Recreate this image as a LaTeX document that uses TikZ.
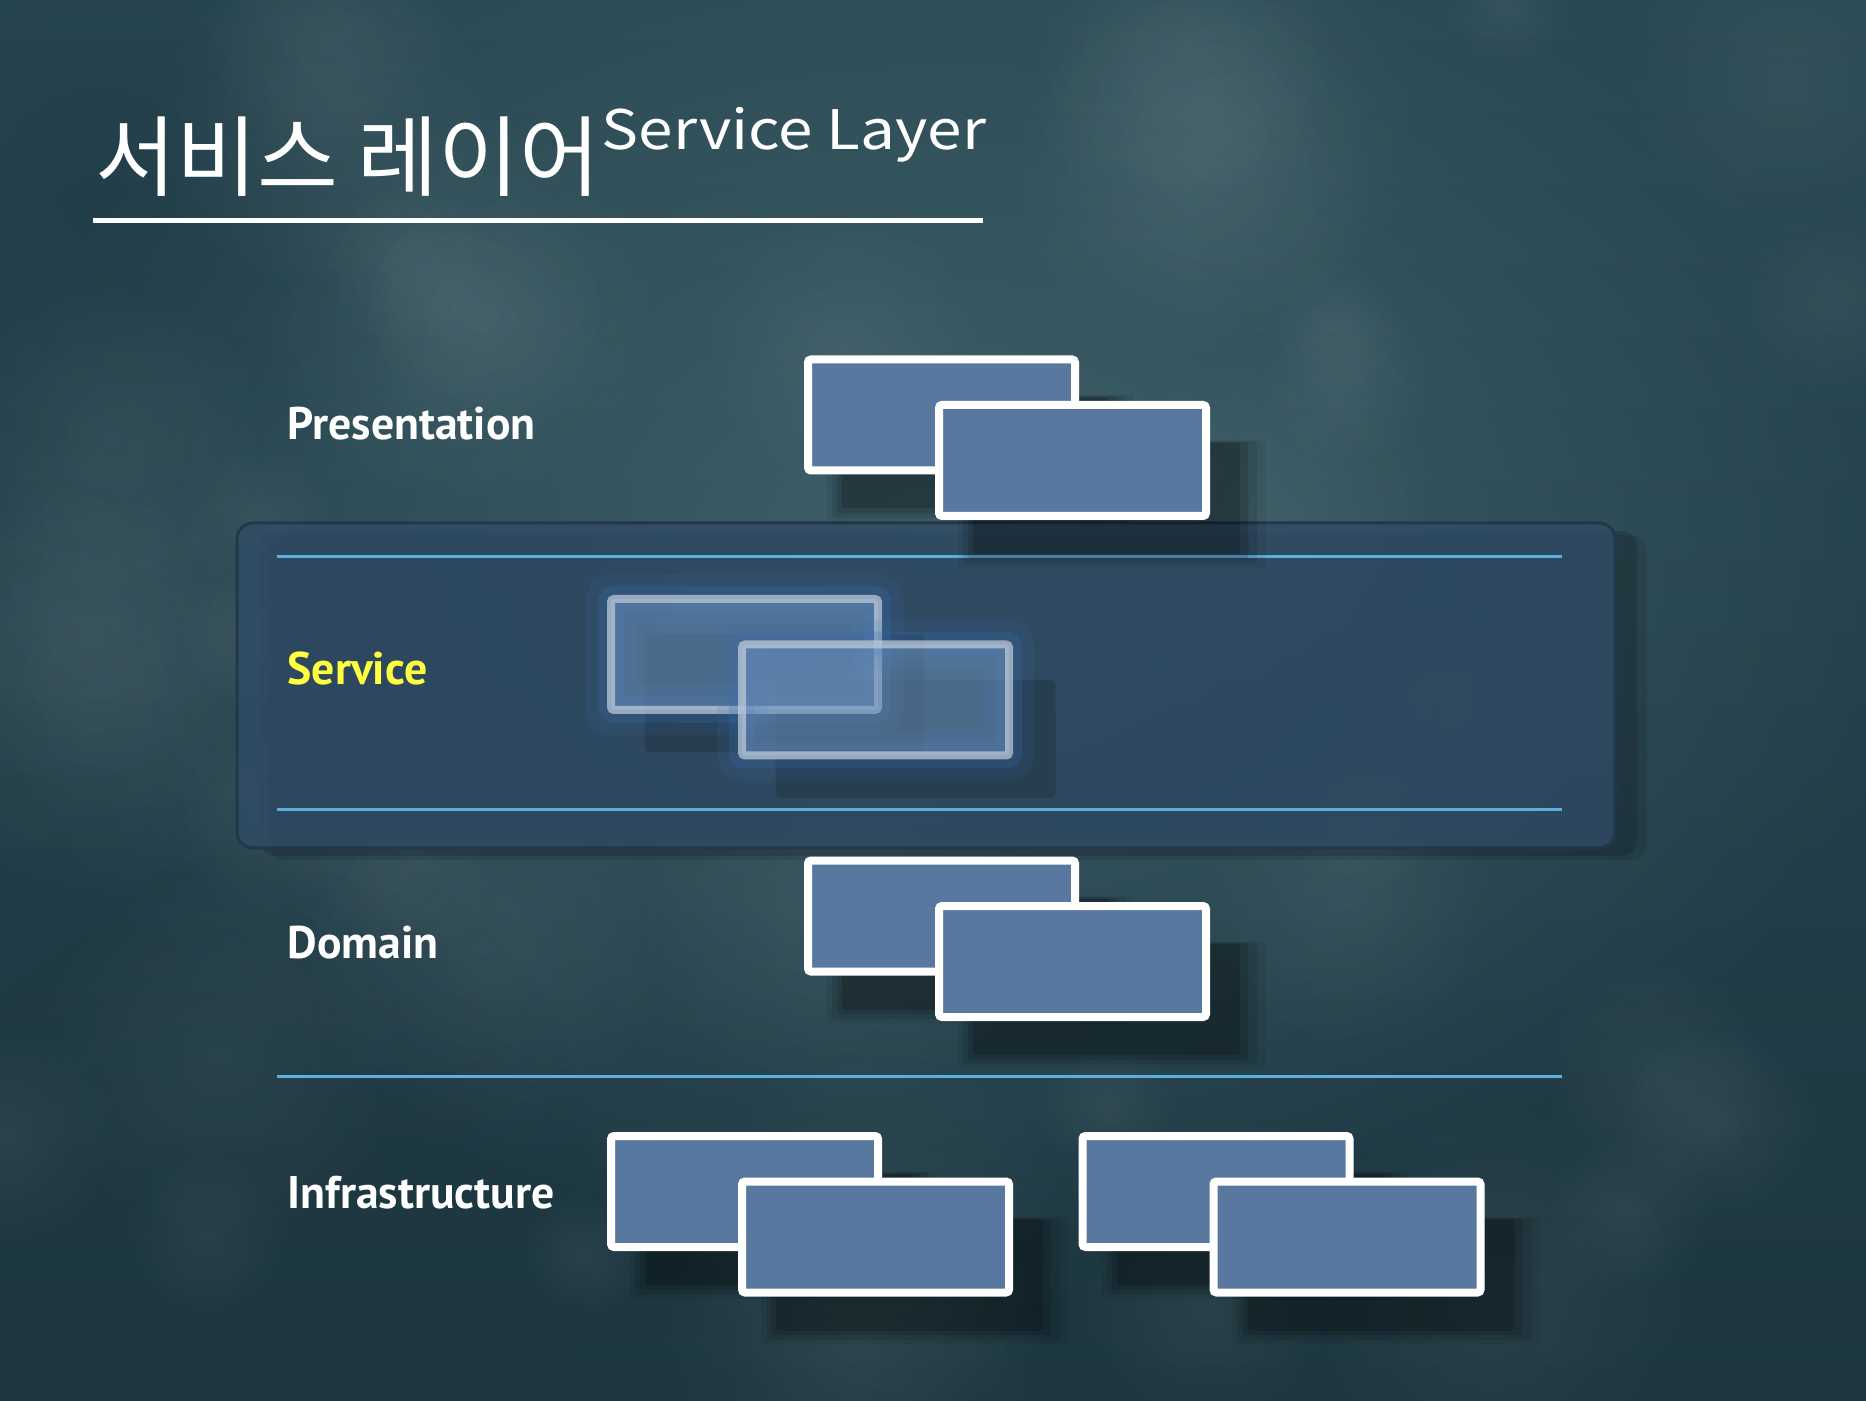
\documentclass[tikz,border=0pt]{standalone}
\usepackage{fontspec}
\usepackage{graphicx}
\setmainfont{PT Sans}
\newfontfamily\hanfont{Noto Sans CJK KR}
\usetikzlibrary{shadows,fadings}

\definecolor{bgdark}{HTML}{1D3640}
\definecolor{bgmid}{HTML}{2A4953}
\definecolor{bglight}{HTML}{4A6D76}
\definecolor{boxfill}{HTML}{5878A0}
\definecolor{bandfill}{HTML}{304C66}
\definecolor{bandedge}{HTML}{24374A}
\definecolor{rulecol}{HTML}{5CB0DC}
\definecolor{svcyellow}{HTML}{FFFF40}
\definecolor{glowblue}{HTML}{3A6EB4}
\definecolor{svcedge}{HTML}{C4CFDC}
\definecolor{svcfill}{HTML}{6A90BC}

\tikzfading[name=softblob, inner color=transparent!0, outer color=transparent!100]

\tikzset{
  boxshadow/.style={
    drop shadow={shadow xshift=0.34cm, shadow yshift=-0.38cm, shadow scale=1.00, opacity=0.16, fill=black, draw=none},
    drop shadow={shadow xshift=0.34cm, shadow yshift=-0.38cm, shadow scale=1.05, opacity=0.12, fill=black, draw=none},
    drop shadow={shadow xshift=0.34cm, shadow yshift=-0.38cm, shadow scale=1.10, opacity=0.09, fill=black, draw=none},
    drop shadow={shadow xshift=0.34cm, shadow yshift=-0.38cm, shadow scale=1.15, opacity=0.06, fill=black, draw=none}},
  layerbox/.style={draw=white, fill=boxfill, line width=0.08cm, rounded corners=0.03cm,
    minimum width=2.67cm, minimum height=1.11cm, inner sep=0pt, outer sep=0pt},
  svcbox/.style={draw=svcedge, draw opacity=0.7, fill=svcfill, fill opacity=0.55,
    line width=0.08cm, rounded corners=0.03cm,
    minimum width=2.67cm, minimum height=1.11cm, inner sep=0pt, outer sep=0pt,
    preaction={draw=glowblue, draw opacity=0.12, line width=0.50cm, fill opacity=0},
    preaction={draw=glowblue, draw opacity=0.22, line width=0.26cm, fill opacity=0}},
  layerlabel/.style={anchor=base west, inner sep=0pt, font=\bfseries\fontsize{13}{15}\selectfont},
  sepline/.style={draw=rulecol, line width=0.03cm},
}

\begin{document}
\begin{tikzpicture}
\useasboundingbox (0,0) rectangle (18.66,14);

% 배경
\shade[top color=bgmid, bottom color=bgdark] (0,0) rectangle (18.66,14);
\fill[bglight, path fading=softblob, opacity=0.7] (9.5,8.5) ellipse (10 and 7);
\fill[bgdark, path fading=softblob, opacity=0.6] (2,2) circle (4);
\fill[bgdark, path fading=softblob, opacity=0.5] (1,12) circle (3.5);
\pgfmathsetseed{7}
\foreach \i in {1,...,40} {
    \pgfmathsetmacro{\bx}{rnd*18.66}
    \pgfmathsetmacro{\by}{rnd*14}
    \pgfmathsetmacro{\br}{0.6+rnd*1.6}
    \fill[white, path fading=softblob, opacity=0.05] (\bx,\by) circle (\br);
}

% 제목
\node[anchor=base west, inner sep=0pt, text=white, font=\hanfont\fontsize{25}{28}\selectfont] (title-ko) at (0.95,12.10) {서비스 레이어};
\node[anchor=base west, inner sep=0pt, text=white, font=\hanfont\fontsize{15.5}{18}\selectfont] (title-en) at (6.01,12.50) {\scalebox{1.14}[1]{Service Layer}};
\draw[white, line width=0.05cm] (0.93,11.79) -- (9.83,11.79);

% 서비스 레이어 띠
\draw[fill=bandfill, fill opacity=0.8, draw=bandedge, line width=0.03cm, rounded corners=0.16cm,
      drop shadow={shadow xshift=0.22cm, shadow yshift=-0.08cm, opacity=0.14, fill=black, draw=none},
      drop shadow={shadow xshift=0.32cm, shadow yshift=-0.12cm, opacity=0.10, fill=black, draw=none}]
      (2.37,5.52) rectangle (16.15,8.77);

% 구분선
\foreach \y in {8.43, 5.90, 3.24} {
    \draw[sepline] (2.77,\y) -- (15.62,\y);
}

% 레이어 이름
\foreach \name/\y/\col/\text in {
    pres/9.60/white/Presentation,
    svc/7.15/svcyellow/Service,
    dom/4.42/white/Domain,
    infra/1.92/white/Infrastructure} {
    \node[layerlabel, text=\col] (lbl-\name) at (2.87,\y) {\text};
}

% 상자 (뒤, 앞)
\foreach \name/\x/\y in {
    pres/9.415/9.85,
    dom/9.415/4.84,
    infraA/7.445/2.085,
    infraB/12.16/2.085} {
    \node[layerbox, boxshadow] (\name-back) at (\x,\y) {};
    \node[layerbox, boxshadow] (\name-front) at (\x+1.31,\y-0.455) {};
}

% 서비스 상자(반투명)
\foreach \x/\y in {7.445/7.455, 8.755/7.00} {
    \fill[black, opacity=0.15, rounded corners=0.05cm] (\x-1.0,\y-0.98) rectangle (\x+1.8,\y+0.2);
}
\node[svcbox] (svc-back) at (7.445,7.455) {};
\node[svcbox] (svc-front) at (8.755,7.00) {};

\end{tikzpicture}
\end{document}
